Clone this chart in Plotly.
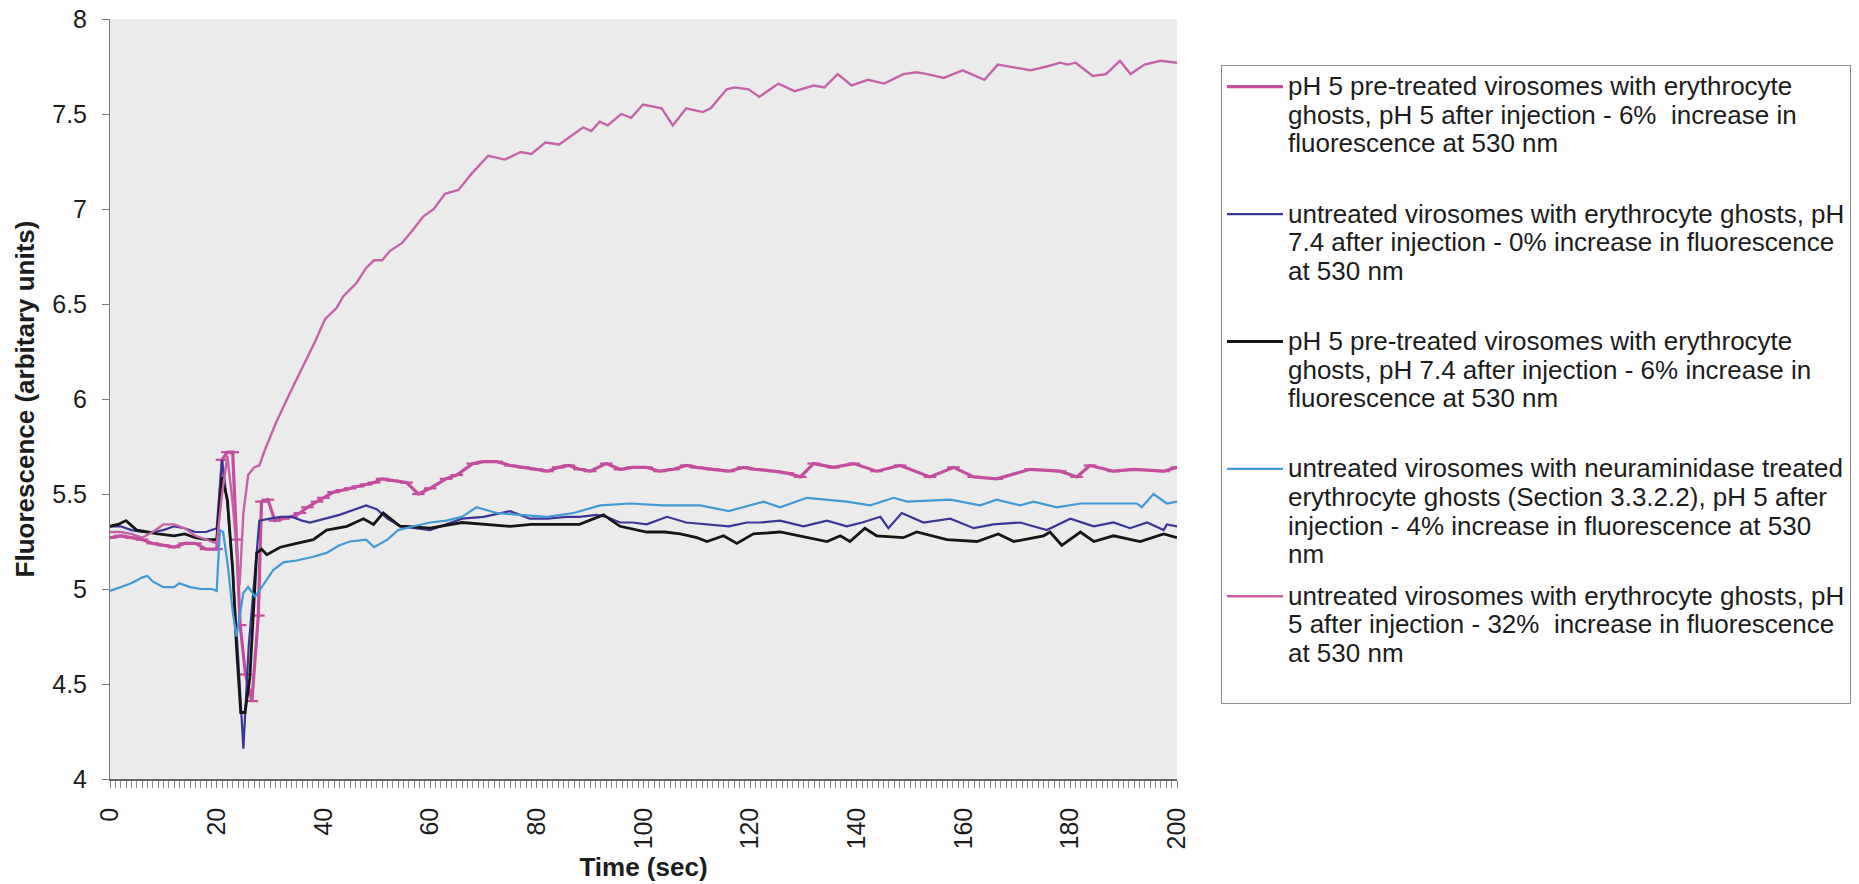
import plotly.graph_objects as go

# ---- fluorescence traces (time in seconds, fluorescence in arbitrary units) ----

# pH 5 pre-treated virosomes + ghosts, pH 5 after injection (6 %)
t_pre_ph5 = [0, 2, 4, 6, 8, 10, 12, 14, 16, 18, 20,
             21, 22, 23, 23.7, 24.4, 25.4, 26.6, 27.8, 28.4, 29.6, 30.9,
             32.5, 34, 35.6, 37, 38.8, 40, 41.9, 43.5, 45, 46.5, 48, 49.5, 51, 53,
             55.6, 57.8, 60, 63, 65, 68, 70, 72.5, 75, 77.5,
             80, 82, 84, 86, 88, 90, 93, 95.6, 98, 100.6,
             103, 105.6, 108, 110, 113, 116, 118.7, 121, 124.4, 127,
             129.4, 131.9, 135.6, 139.4, 143.7, 148.1, 153.7, 158.1, 161.9, 166.2,
             172.5, 178.1, 181.2, 183.7, 188.1, 191.9, 197.5, 200]
f_pre_ph5 = [5.27, 5.28, 5.27, 5.26, 5.24, 5.23, 5.22, 5.24, 5.24, 5.21, 5.21,
             5.68, 5.72, 5.72, 5.26, 4.81, 4.55, 4.41, 4.86, 5.46, 5.47, 5.36,
             5.37, 5.38, 5.40, 5.43, 5.46, 5.48, 5.51, 5.52, 5.53, 5.54, 5.55, 5.56, 5.58, 5.57,
             5.56, 5.50, 5.53, 5.58, 5.60, 5.66, 5.67, 5.67, 5.65, 5.64,
             5.63, 5.62, 5.64, 5.65, 5.63, 5.62, 5.66, 5.63, 5.64, 5.64,
             5.62, 5.63, 5.65, 5.64, 5.63, 5.62, 5.64, 5.63, 5.62, 5.61,
             5.59, 5.66, 5.64, 5.66, 5.62, 5.65, 5.59, 5.64, 5.59, 5.58,
             5.63, 5.62, 5.59, 5.65, 5.62, 5.63, 5.62, 5.64]

# untreated virosomes + ghosts, pH 7.4 after injection (0 %)
t_untr_ph74 = [0, 2, 4, 6, 8, 10, 12, 14, 16, 18, 20,
               21, 22, 23, 24, 25, 26, 27, 28,
               30, 32, 34, 36, 37.5, 40, 43, 46, 48, 50,
               52, 54.4, 57, 60, 63, 66, 70, 75, 78.7, 82,
               85.6, 88, 91.2, 93, 95.6, 98, 100.6, 104.4, 108, 112,
               116, 119.4, 122, 125.6, 130, 134.4, 138.1, 141, 144.4, 145.9,
               148.4, 152.5, 157.5, 161.9, 165.6, 170.6, 175.6, 180, 184.4, 188.1,
               191.2, 194.4, 197.5, 198.1, 200]
f_untr_ph74 = [5.33, 5.33, 5.31, 5.30, 5.30, 5.31, 5.33, 5.32, 5.30, 5.30, 5.32,
               5.68, 5.45, 5.10, 4.65, 4.16, 4.70, 5.05, 5.36,
               5.37, 5.38, 5.38, 5.36, 5.35, 5.37, 5.39, 5.42, 5.44, 5.42,
               5.37, 5.33, 5.32, 5.31, 5.34, 5.37, 5.38, 5.41, 5.37, 5.37,
               5.38, 5.38, 5.39, 5.38, 5.35, 5.35, 5.34, 5.38, 5.35, 5.34,
               5.33, 5.35, 5.35, 5.36, 5.33, 5.36, 5.33, 5.35, 5.38, 5.32,
               5.40, 5.35, 5.37, 5.32, 5.34, 5.35, 5.31, 5.37, 5.33, 5.35,
               5.32, 5.35, 5.31, 5.34, 5.33]

# pH 5 pre-treated virosomes + ghosts, pH 7.4 after injection (6 %)
t_pre_ph74 = [0, 1.5, 3, 5, 7, 9, 12, 14, 16, 18, 20,
              21, 22, 23, 23.7, 24.5, 25.3, 26.2, 27.5, 28.4, 29.4,
              31.9, 35, 38.1, 40.6, 44.4, 47.5, 49.4, 51.2, 54.4, 55.6,
              60, 66, 70, 75, 79, 83, 88, 92.5, 95.6, 100.6,
              104, 106.9, 110, 111.9, 115, 117.5, 120.6, 125.6, 129.4, 134.4,
              136.9, 138.7, 141.5, 143.7, 148.7, 151.2, 156.9, 162.5, 166.5, 169.4,
              175, 176.2, 178.4, 181.9, 184.4, 188.1, 193.1, 197.5, 200]
f_pre_ph74 = [5.33, 5.34, 5.36, 5.31, 5.30, 5.29, 5.28, 5.29, 5.27, 5.26, 5.26,
              5.59, 5.47, 5.10, 4.70, 4.35, 4.35, 4.53, 5.19, 5.21, 5.18,
              5.22, 5.24, 5.26, 5.31, 5.33, 5.37, 5.34, 5.40, 5.33, 5.33,
              5.32, 5.35, 5.34, 5.33, 5.34, 5.34, 5.34, 5.39, 5.33, 5.30,
              5.30, 5.29, 5.27, 5.25, 5.28, 5.24, 5.29, 5.30, 5.28, 5.25,
              5.28, 5.25, 5.32, 5.28, 5.27, 5.30, 5.26, 5.25, 5.29, 5.25,
              5.28, 5.30, 5.23, 5.30, 5.25, 5.28, 5.25, 5.29, 5.27]

# untreated virosomes + neuraminidase treated ghosts, pH 5 after injection (4 %)
t_neur = [0, 2, 4, 6, 7, 8, 10, 12, 13, 15,
          17, 19, 20, 20.6, 21.2, 22.1, 23, 23.7, 25, 25.9,
          27.2, 28.7, 30.6, 32.5, 35, 38.1, 40.6, 43, 45, 48,
          49.5, 52, 54, 56.9, 60, 63, 66, 68.7, 72.5, 76.9,
          81.9, 86.9, 91.9, 97.5, 103.7, 110.6, 116, 122.5, 125.6, 130.6,
          138.1, 142.5, 146.9, 149.4, 157.5, 163.1, 166.2, 170.6, 173.1, 177.5,
          181.9, 192.5, 193.4, 195.6, 198.1, 200]
f_neur = [4.99, 5.01, 5.03, 5.06, 5.07, 5.04, 5.01, 5.01, 5.03, 5.01,
          5.00, 5.00, 4.99, 5.31, 5.30, 5.12, 4.88, 4.75, 4.98, 5.01,
          4.96, 5.02, 5.10, 5.14, 5.15, 5.17, 5.19, 5.23, 5.25, 5.26,
          5.22, 5.26, 5.31, 5.33, 5.35, 5.36, 5.38, 5.43, 5.40, 5.39,
          5.38, 5.40, 5.44, 5.45, 5.44, 5.44, 5.41, 5.46, 5.43, 5.48,
          5.46, 5.44, 5.48, 5.46, 5.47, 5.44, 5.47, 5.44, 5.46, 5.43,
          5.45, 5.45, 5.43, 5.50, 5.45, 5.46]

# untreated virosomes + ghosts, pH 5 after injection (32 %)
t_untr_ph5 = [0, 2, 4, 6, 8, 10, 12, 14, 16, 18, 20,
              21, 22, 23, 24.3, 25, 25.9, 27, 28, 29, 31.2,
              33.7, 36.2, 38.4, 40.3, 42.5, 43.7, 46.2, 48, 49.5, 51,
              52.5, 54.7, 56.5, 58.7, 60.7, 62.8, 65.3, 67.9, 70.9, 74,
              77, 79, 81.6, 84.2, 86.2, 88.7, 90.2, 91.8, 93.3, 95.8,
              97.7, 99.9, 103.4, 105.5, 108, 111.1, 112.6, 115.6, 117.1, 119.7,
              121.7, 125.3, 128.3, 131.9, 133.9, 136.4, 139, 142.1, 145.1, 148.7,
              151.2, 153.2, 156.3, 159.8, 163.9, 166.4, 170.5, 172.5, 175.6, 178.1,
              179.5, 181, 184.2, 186.7, 189.3, 191.3, 193.9, 196.9, 200]
f_untr_ph5 = [5.30, 5.30, 5.29, 5.27, 5.30, 5.34, 5.34, 5.32, 5.28, 5.26, 5.24,
              5.50, 5.70, 5.45, 5.02, 5.40, 5.60, 5.64, 5.65, 5.73, 5.88,
              6.03, 6.17, 6.30, 6.42, 6.48, 6.54, 6.61, 6.69, 6.73, 6.73,
              6.78, 6.82, 6.88, 6.96, 7.00, 7.08, 7.10, 7.19, 7.28, 7.26,
              7.30, 7.29, 7.35, 7.34, 7.38, 7.43, 7.41, 7.46, 7.44, 7.50,
              7.48, 7.55, 7.53, 7.44, 7.53, 7.51, 7.53, 7.63, 7.64, 7.63,
              7.59, 7.66, 7.62, 7.65, 7.64, 7.71, 7.65, 7.68, 7.66, 7.71,
              7.72, 7.71, 7.69, 7.73, 7.68, 7.76, 7.74, 7.73, 7.75, 7.77,
              7.76, 7.77, 7.70, 7.71, 7.78, 7.71, 7.76, 7.78, 7.77]

# legend wording, one list entry per printed line
names = [
    ["pH 5 pre-treated virosomes with erythrocyte",
     "ghosts, pH 5 after injection - 6%\u00a0 increase in",
     "fluorescence at 530 nm"],
    ["untreated virosomes with erythrocyte ghosts, pH",
     "7.4 after injection - 0% increase in fluorescence",
     "at 530 nm"],
    ["pH 5 pre-treated virosomes with erythrocyte",
     "ghosts, pH 7.4 after injection - 6% increase in",
     "fluorescence at 530 nm"],
    ["untreated virosomes with neuraminidase treated",
     "erythrocyte ghosts (Section 3.3.2.2), pH 5 after",
     "injection - 4% increase in fluorescence at 530",
     "nm"],
    ["untreated virosomes with erythrocyte ghosts, pH",
     "5 after injection - 32%\u00a0 increase in fluorescence",
     "at 530 nm"],
]

FONT = "Liberation Sans, Arial, sans-serif"
TEXT = "#1c1c1c"
PINK = "#c44d9d"
PINK_THIN = "#c663a8"
NAVY = "#3b3696"
BLACK = "#161616"
SKY = "#3f9ad6"


def legend_label(lines):
    # every entry occupies four text rows so the entries sit on an even pitch
    rows = list(lines) + ["\u00a0"] * (4 - len(lines))
    return "<br>".join(f"<span style='font-size:26px'>{r}</span>" for r in rows)


series = [
    (t_pre_ph5, f_pre_ph5, PINK, 3.2, True),
    (t_untr_ph74, f_untr_ph74, NAVY, 2.2, False),
    (t_pre_ph74, f_pre_ph74, BLACK, 2.8, False),
    (t_neur, f_neur, SKY, 2.2, False),
    (t_untr_ph5, f_untr_ph5, PINK_THIN, 2.4, False),
]

fig = go.Figure()
for i, (t, f, col, w, marked) in enumerate(series):
    kw = {}
    if marked:
        kw["mode"] = "lines+markers"
        kw["marker"] = dict(symbol="line-ew", size=9, color=col,
                            line=dict(color=col, width=2.2))
    else:
        kw["mode"] = "lines"
    fig.add_trace(go.Scatter(
        x=t, y=f, name=legend_label(names[i]), legendgroup=f"s{i}",
        line=dict(color=col, width=w), **kw))

axis_grey = "#7a7a7a"
minor_grey = "#8c8c8c"

fig.update_layout(
    width=1859, height=884,
    margin=dict(l=110, r=682, t=19, b=105, autoexpand=False),
    paper_bgcolor="white",
    plot_bgcolor="#ebebeb",
    font=dict(family=FONT, color=TEXT, size=25),
    showlegend=True,
    legend=dict(
        x=1.0412, xanchor="left", y=0.9396, yanchor="top",
        bgcolor="white", bordercolor="#8c8c8c", borderwidth=1,
        font=dict(family=FONT, size=22, color=TEXT),
        traceorder="grouped", tracegroupgap=10, valign="top",
        itemwidth=56,
    ),
    xaxis=dict(
        range=[0, 200], tickmode="linear", tick0=0, dtick=20,
        tickangle=-90, ticks="outside", ticklen=7, tickcolor=axis_grey,
        ticklabelstandoff=10,
        showline=True, linecolor="#666666", linewidth=1.5,
        showgrid=False, zeroline=False,
        minor=dict(dtick=1, ticks="outside", ticklen=7, tickcolor=minor_grey,
                   showgrid=False),
        tickfont=dict(size=25, color=TEXT),
        title=dict(text="<b>Time (sec)</b>", font=dict(size=26, color=TEXT),
                   standoff=9),
    ),
    # second copy of the time axis supplies the inner half of the crossing ticks
    xaxis2=dict(
        overlaying="x", anchor="y", side="bottom", range=[0, 200],
        tickmode="linear", tick0=0, dtick=20, ticks="inside", ticklen=7,
        tickcolor=axis_grey, showticklabels=False, showline=False,
        showgrid=False, zeroline=False,
        minor=dict(dtick=1, ticks="inside", ticklen=7, tickcolor=minor_grey,
                   showgrid=False),
    ),
    yaxis=dict(
        range=[4, 8], tickmode="linear", tick0=4, dtick=0.5,
        ticks="outside", ticklen=7, tickcolor=axis_grey,
        ticklabelstandoff=10,
        showline=True, linecolor=axis_grey, linewidth=1,
        showgrid=False, zeroline=False,
        tickfont=dict(size=25, color=TEXT),
        title=dict(text="<b>Fluorescence (arbitary units)</b>",
                   font=dict(size=26, color=TEXT), standoff=10),
    ),
    # inner half of the crossing ticks on the fluorescence axis
    yaxis2=dict(
        overlaying="y", anchor="x", side="left", range=[4, 8],
        tickmode="linear", tick0=4, dtick=0.5, ticks="inside", ticklen=5,
        tickcolor=axis_grey, showticklabels=False, showline=False,
        showgrid=False, zeroline=False,
    ),
)

fig.write_html("out.html")
